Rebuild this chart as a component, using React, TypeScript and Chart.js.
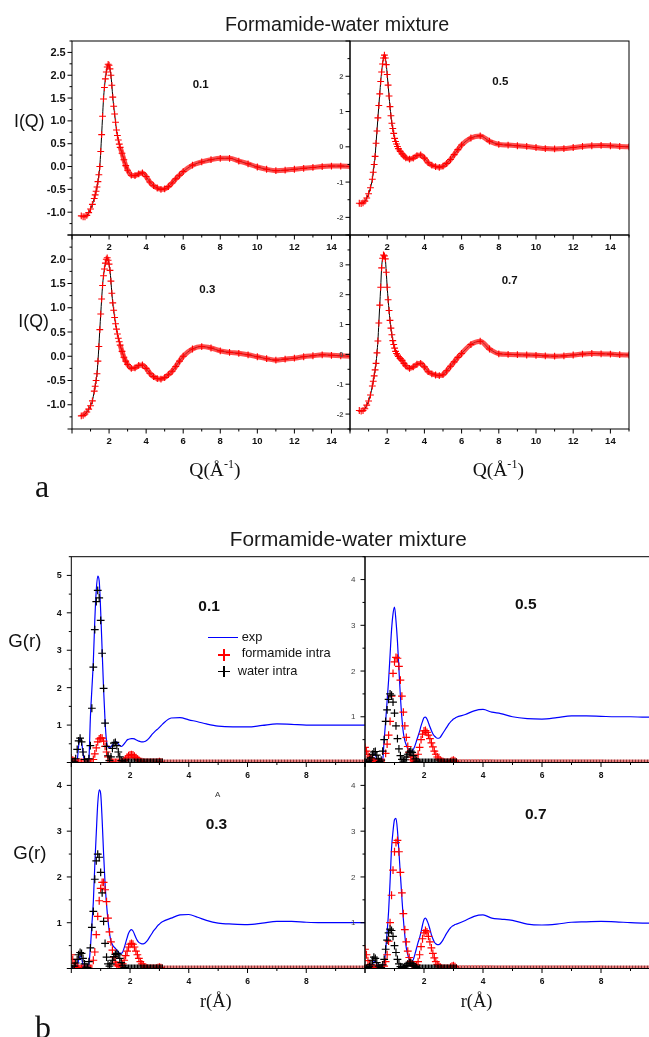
import React, { useEffect, useRef } from 'react';
import { Chart, registerables } from 'chart.js';

Chart.register(...registerables);

// ---------------- DATA: (a) I(Q) ----------------
const qGrid = [
  0.5, 0.6, 0.7, 0.8, 0.9, 1.0, 1.1, 1.2,
  1.25, 1.3, 1.35, 1.4, 1.45, 1.5, 1.55, 1.6, 1.65, 1.7, 1.75, 1.8, 1.85, 1.9, 1.95, 2.0,
  2.05, 2.1, 2.15, 2.2, 2.25, 2.3, 2.35, 2.4, 2.45, 2.5, 2.55, 2.6,
  2.7, 2.8, 2.9, 3.0,
  3.2, 3.4, 3.6, 3.8, 4.0, 4.2, 4.4, 4.6, 4.8, 5.0, 5.2, 5.4, 5.6, 5.8, 6.0,
  6.5, 7.0, 7.5, 8.0, 8.5, 9.0, 9.5, 10.0, 10.5, 11.0, 11.5, 12.0, 12.5, 13.0, 13.5, 14.0, 14.5, 15.0,
];

const iq01 = [
  -1.08, -1.1, -1.1, -1.07, -1.01, -0.93, -0.83, -0.7,
  -0.62, -0.54, -0.45, -0.33, -0.18, 0.0, 0.33, 0.7, 1.1, 1.48, 1.73, 1.92, 2.07, 2.18, 2.24, 2.22,
  2.14, 2.0, 1.78, 1.52, 1.32, 1.15, 0.97, 0.8, 0.68, 0.58, 0.49, 0.42,
  0.29, 0.15, 0.02, -0.08,
  -0.19, -0.2, -0.16, -0.14, -0.22, -0.34, -0.42, -0.47, -0.5, -0.49, -0.44, -0.36, -0.27, -0.19, -0.11,
  0.03, 0.1, 0.15, 0.18, 0.18, 0.12, 0.06, -0.01, -0.06, -0.09, -0.08, -0.06, -0.04, -0.02, 0.0, 0.01, 0.01, 0.0,
];

const iq05 = [
  -1.6, -1.61, -1.59, -1.54, -1.45, -1.33, -1.16, -0.92,
  -0.72, -0.5, -0.27, 0.1, 0.45, 0.82, 1.17, 1.5, 1.85, 2.12, 2.35, 2.52, 2.6, 2.52, 2.33, 2.05,
  1.75, 1.44, 1.14, 0.88, 0.67, 0.52, 0.38, 0.24, 0.15, 0.08, 0.01, -0.05,
  -0.13, -0.2, -0.26, -0.31,
  -0.35, -0.32, -0.25, -0.23, -0.32, -0.45, -0.52, -0.56, -0.58, -0.55, -0.47, -0.36, -0.22, -0.08, 0.05,
  0.25, 0.31, 0.16, 0.07, 0.05, 0.03, 0.01, -0.02, -0.05, -0.06, -0.05, -0.02, 0.01, 0.03, 0.04, 0.03, 0.01, 0.0,
];

const iq03 = [
  -1.23, -1.22, -1.19, -1.15, -1.09, -1.02, -0.92, -0.72,
  -0.62, -0.5, -0.36, -0.1, 0.2, 0.55, 0.87, 1.18, 1.46, 1.66, 1.8, 1.92, 2.0, 2.03, 1.98, 1.9,
  1.77, 1.55, 1.3, 1.1, 0.95, 0.8, 0.67, 0.56, 0.46, 0.37, 0.3, 0.23,
  0.1, -0.02, -0.1, -0.17,
  -0.25, -0.24, -0.19, -0.18, -0.25, -0.35, -0.42, -0.46, -0.47, -0.44, -0.38, -0.31, -0.21, -0.1, 0.0,
  0.15, 0.2, 0.17, 0.11, 0.08, 0.06, 0.03, -0.01, -0.05, -0.08, -0.06, -0.04, -0.01, 0.01, 0.03, 0.02, 0.01, 0.0,
];

const iq07 = [
  -1.88, -1.9, -1.88, -1.82, -1.7, -1.56, -1.36, -1.06,
  -0.9, -0.72, -0.52, -0.3, 0.05, 0.45, 1.05, 1.65, 2.25, 2.9, 3.22, 3.33, 3.3, 3.2, 2.75, 2.25,
  1.83, 1.47, 1.14, 0.88, 0.66, 0.46, 0.33, 0.21, 0.1, 0.03, -0.02, -0.07,
  -0.14, -0.2, -0.3, -0.38,
  -0.47, -0.42, -0.33, -0.3, -0.42, -0.58, -0.65, -0.69, -0.71, -0.68, -0.55, -0.4, -0.25, -0.1, 0.03,
  0.33, 0.44, 0.18, 0.02, 0.0, -0.01, -0.02, -0.03, -0.05, -0.06, -0.05, -0.02, 0.01, 0.03, 0.02, 0.01, -0.01, -0.02,
];

const qTickVals = [2, 4, 6, 8, 10, 12, 14];
const iqTicks01 = [-1.0, -0.5, 0.0, 0.5, 1.0, 1.5, 2.0, 2.5];
const iqTicks05 = [-2, -1, 0, 1, 2];
const iqTicks03 = [-1.0, -0.5, 0.0, 0.5, 1.0, 1.5, 2.0];
const iqTicks07 = [-2, -1, 0, 1, 2, 3];

// ---------------- DATA: (b) G(r) ----------------
const rGrid = [
  0, 0.05, 0.1, 0.15, 0.2, 0.25, 0.3, 0.35, 0.4, 0.45,
  0.5, 0.55, 0.6, 0.65, 0.7, 0.75, 0.8, 0.85, 0.9, 0.95,
  1, 1.05, 1.1, 1.15, 1.2, 1.25, 1.3, 1.35, 1.4, 1.45,
  1.5, 1.55, 1.6, 1.65, 1.7, 1.75, 1.8, 1.85, 1.9, 1.95,
  2, 2.05, 2.1, 2.15, 2.2, 2.25, 2.3, 2.35, 2.4, 2.45,
  2.5, 2.55, 2.6, 2.65, 2.7, 2.75, 2.8, 2.85, 2.9, 2.95,
  3, 3.05, 3.1,
];
const rTail = [3.4, 3.7, 4, 4.3, 4.6, 5, 5.5, 6, 6.5, 7, 7.5, 8, 8.5, 9, 9.5, 10];
const rEnd = [10];
const rExp = [...rGrid, ...rTail];
const rPart = [...rGrid, ...rEnd];

const expG01 = [
  0, 0, 0, 0, 0.05, 0.45, 0.66, 0.55, 0.25, 0.03,
  0, 0, 0.1, 1.2, 1.95, 2.7, 3.8, 4.6, 4.98, 4.85,
  4.05, 3.0, 1.95, 1.1, 0.56, 0.42, 0.39, 0.42, 0.47, 0.52,
  0.56, 0.55, 0.5, 0.45, 0.43, 0.45, 0.5, 0.55, 0.6, 0.62,
  0.63, 0.64, 0.64, 0.63, 0.61, 0.59, 0.57, 0.56, 0.55, 0.55,
  0.56, 0.58, 0.61, 0.65, 0.7, 0.75, 0.79, 0.83, 0.87, 0.9,
  0.94, 0.98, 1.02,
  1.19, 1.2, 1.14, 1.09, 1.03, 0.97, 0.95, 0.95, 0.99, 1.03, 1.02, 1.0, 1.0, 1.0, 1.0, 1.0,
];
const formG01 = [
  0.12, 0.06, 0.02, 0, 0, 0, 0, 0, 0, 0,
  0, 0, 0, 0, 0, 0.08, 0.23, 0.39, 0.55, 0.63,
  0.66, 0.65, 0.57, 0.43, 0.28, 0.15, 0.06, 0.02, 0, 0,
  0, 0, 0, 0, 0, 0.02, 0.05, 0.09, 0.14, 0.18,
  0.2, 0.21, 0.2, 0.17, 0.13, 0.09, 0.06, 0.03, 0.02, 0.01,
  0, 0, 0, 0, 0, 0, 0, 0, 0, 0.01,
  0.02, 0.01, 0,
  0,
];
const waterG01 = [
  0, 0, 0.02, 0.1, 0.35, 0.58, 0.65, 0.55, 0.28, 0.08,
  0, 0, 0.1, 0.45, 1.45, 2.55, 3.55, 4.3, 4.6, 4.4,
  3.8, 2.92, 1.98, 1.05, 0.43, 0.18, 0.05, 0.15, 0.38, 0.52,
  0.54, 0.45, 0.28, 0.15, 0.05, 0.01, 0, 0, 0, 0,
  0, 0, 0, 0, 0, 0, 0, 0, 0, 0,
  0, 0, 0, 0, 0, 0, 0, 0, 0, 0,
  0, 0, 0,
  0,
];

const expG05 = [
  0.04, 0.02, 0, 0, 0.02, 0.12, 0.19, 0.17, 0.06, 0,
  0, 0, 0.05, 0.5, 0.9, 1.35, 1.8, 2.35, 2.9, 3.25,
  3.4, 3.1, 2.65, 2.04, 1.45, 0.98, 0.65, 0.48, 0.38, 0.3,
  0.27, 0.25, 0.25, 0.3, 0.38, 0.48, 0.58, 0.68, 0.8, 0.9,
  0.98, 0.99, 0.95, 0.87, 0.78, 0.7, 0.63, 0.58, 0.55, 0.53,
  0.53, 0.55, 0.6, 0.65, 0.7, 0.75, 0.8, 0.85, 0.89, 0.92,
  0.95, 0.97, 0.99,
  1.05, 1.13, 1.16, 1.1, 1.07, 1.0, 0.96, 0.95, 0.98, 1.02, 1.02, 1.01, 1.0, 1.0, 0.99, 0.99,
];
const formG05 = [
  0.33, 0.25, 0.17, 0.12, 0.08, 0.05, 0.03, 0.01, 0, 0,
  0, 0, 0, 0, 0.2, 0.4, 0.6, 0.9, 1.45, 1.95,
  2.2, 2.3, 2.28, 2.1, 1.8, 1.45, 1.1, 0.8, 0.55, 0.35,
  0.22, 0.12, 0.06, 0.03, 0.02, 0.05, 0.18, 0.33, 0.5, 0.62,
  0.69, 0.7, 0.66, 0.6, 0.52, 0.43, 0.34, 0.25, 0.18, 0.12,
  0.08, 0.05, 0.03, 0.02, 0, 0, 0, 0, 0.02, 0.04,
  0.05, 0.03, 0.01,
  0,
];
const waterG05 = [
  0, 0, 0.02, 0.05, 0.1, 0.18, 0.23, 0.24, 0.16, 0.08,
  0.02, 0.05, 0.25, 0.5, 0.9, 1.15, 1.38, 1.5, 1.47, 1.32,
  1.08, 0.8, 0.52, 0.3, 0.15, 0.07, 0.03, 0.06, 0.12, 0.18,
  0.23, 0.25, 0.22, 0.15, 0.08, 0.03, 0.01, 0, 0, 0,
  0, 0, 0, 0, 0, 0, 0, 0, 0, 0,
  0, 0, 0, 0, 0, 0, 0, 0, 0, 0,
  0, 0, 0,
  0,
];

const expG03 = [
  0.05, 0.02, 0, 0, 0.05, 0.18, 0.27, 0.22, 0.08, 0,
  0, 0, 0.1, 0.45, 0.95, 1.45, 2.26, 2.95, 3.6, 3.9,
  3.82, 3.25, 2.5, 1.85, 1.4, 1.05, 0.78, 0.6, 0.52, 0.47,
  0.44, 0.4, 0.36, 0.33, 0.33, 0.36, 0.45, 0.56, 0.67, 0.77,
  0.83, 0.85, 0.82, 0.75, 0.67, 0.61, 0.57, 0.55, 0.54, 0.54,
  0.55, 0.58, 0.62, 0.67, 0.72, 0.77, 0.82, 0.86, 0.9, 0.94,
  0.97, 1.0, 1.02,
  1.1, 1.17, 1.18, 1.12, 1.05, 0.99, 0.97, 0.96, 0.99, 1.03, 1.03, 1.01, 1.0, 1.0, 1.0, 1.0,
];
const formG03 = [
  0.3, 0.2, 0.11, 0.05, 0.02, 0, 0, 0, 0.01, 0,
  0, 0, 0, 0, 0, 0.18, 0.36, 0.74, 1.14, 1.48,
  1.75, 1.88, 1.88, 1.72, 1.46, 1.1, 0.8, 0.58, 0.4, 0.25,
  0.14, 0.08, 0.05, 0.04, 0.05, 0.1, 0.18, 0.28, 0.38, 0.47,
  0.53, 0.55, 0.53, 0.47, 0.38, 0.3, 0.22, 0.15, 0.1, 0.06,
  0.03, 0.02, 0.01, 0, 0, 0, 0, 0, 0.01, 0.02,
  0.03, 0.02, 0,
  0,
];
const waterG03 = [
  0, 0, 0.05, 0.12, 0.2, 0.3, 0.35, 0.33, 0.22, 0.1,
  0.03, 0.02, 0.15, 0.45, 0.9, 1.25, 1.95, 2.35, 2.5, 2.43,
  2.1, 1.65, 1.03, 0.55, 0.25, 0.1, 0.05, 0.1, 0.18, 0.26,
  0.31, 0.33, 0.3, 0.22, 0.13, 0.06, 0.02, 0, 0, 0,
  0, 0, 0, 0, 0, 0, 0, 0, 0, 0,
  0, 0, 0, 0, 0, 0, 0, 0, 0, 0,
  0, 0, 0,
  0,
];

const expG07 = [
  0.02, 0, 0, 0, 0.02, 0.08, 0.15, 0.16, 0.1, 0.02,
  0, 0, 0, 0.08, 0.4, 0.8, 1.25, 1.9, 2.62, 3.0,
  3.25, 3.28, 3.02, 2.55, 2.05, 1.55, 1.08, 0.72, 0.45, 0.3,
  0.2, 0.15, 0.15, 0.22, 0.33, 0.45, 0.57, 0.67, 0.8, 0.95,
  1.07, 1.1, 1.05, 0.97, 0.86, 0.74, 0.65, 0.58, 0.54, 0.52,
  0.52, 0.54, 0.58, 0.63, 0.69, 0.75, 0.8, 0.85, 0.89, 0.92,
  0.94, 0.96, 0.97,
  1.05, 1.14, 1.17, 1.1, 1.08, 1.05, 0.97, 0.95, 0.97, 1.01, 1.02, 1.03, 1.02, 1.0, 0.99, 0.99,
];
const formG07 = [
  0.42, 0.3, 0.17, 0.08, 0.03, 0.01, 0.01, 0.01, 0.01, 0.01,
  0, 0, 0, 0.05, 0.15, 0.3, 0.6, 1.0, 1.6, 2.15,
  2.55, 2.75, 2.8, 2.55, 2.1, 1.65, 1.2, 0.85, 0.58, 0.38,
  0.24, 0.15, 0.09, 0.05, 0.04, 0.08, 0.15, 0.3, 0.48, 0.65,
  0.78, 0.83, 0.8, 0.7, 0.58, 0.45, 0.33, 0.23, 0.15, 0.09,
  0.05, 0.03, 0.01, 0, 0, 0, 0, 0, 0.03, 0.05,
  0.06, 0.04, 0.01,
  0,
];
const waterG07 = [
  0, 0, 0.02, 0.04, 0.08, 0.18, 0.25, 0.22, 0.13, 0.05,
  0.01, 0.02, 0.08, 0.2, 0.42, 0.62, 0.78, 0.86, 0.83, 0.7,
  0.5, 0.35, 0.2, 0.1, 0.04, 0.02, 0.02, 0.04, 0.07, 0.1,
  0.12, 0.12, 0.1, 0.07, 0.04, 0.02, 0, 0, 0, 0,
  0, 0, 0, 0, 0, 0, 0, 0, 0, 0,
  0, 0, 0, 0, 0, 0, 0, 0, 0, 0,
  0, 0, 0,
  0,
];

const rTickVals = [2, 4, 6, 8];
const gTicks01 = [1, 2, 3, 4, 5];
const gTicks = [1, 2, 3, 4];

// ---------------- rendering ----------------
const CW = 680;
const CH = 1037;
const SANS = '"Liberation Sans", Arial, Helvetica, sans-serif';
const SERIF = '"Liberation Serif", "Times New Roman", Times, serif';

const framePlugin = {
  id: 'frame',
  afterDraw(chart: any, _args: any, o: any) {
    const { ctx, chartArea: a, scales } = chart;
    const xs = scales.x;
    const ys = scales.y;
    ctx.save();
    ctx.strokeStyle = '#000';
    ctx.lineWidth = 1;
    ctx.strokeRect(a.left, a.top, a.right - a.left, a.bottom - a.top);
    const isMul = (v: number, s: number) => Math.abs(v / s - Math.round(v / s)) < 1e-6;
    const kx0 = Math.ceil(o.xMin / o.xMinor - 1e-6);
    const kx1 = Math.floor(o.xMax / o.xMinor + 1e-6);
    for (let k = kx0; k <= kx1; k++) {
      const v = k * o.xMinor;
      const px = xs.getPixelForValue(v);
      const len = isMul(v, o.xMajor) ? 4.5 : 2.5;
      ctx.beginPath();
      ctx.moveTo(px, a.bottom);
      ctx.lineTo(px, a.bottom + len);
      ctx.stroke();
    }
    const ky0 = Math.ceil(o.yMin / o.yMinor - 1e-6);
    const ky1 = Math.floor(o.yMax / o.yMinor + 1e-6);
    for (let k = ky0; k <= ky1; k++) {
      const v = k * o.yMinor;
      const py = ys.getPixelForValue(v);
      const len = isMul(v, o.yMajor) ? 4.5 : 2.5;
      ctx.beginPath();
      ctx.moveTo(a.left, py);
      ctx.lineTo(a.left - len, py);
      ctx.stroke();
    }
    ctx.font = o.xFont;
    ctx.fillStyle = '#111';
    ctx.textAlign = 'center';
    ctx.textBaseline = 'middle';
    o.xLabels.forEach((v: number) => {
      ctx.fillText(String(v), xs.getPixelForValue(v), a.bottom + o.xOff);
    });
    ctx.font = o.yFont;
    ctx.fillStyle = o.yColor;
    ctx.textAlign = 'right';
    o.yLabels.forEach((v: number) => {
      ctx.fillText(v.toFixed(o.yDec), a.left - o.yGap, ys.getPixelForValue(v) + 0.5);
    });
    ctx.restore();
  },
};

function iqSets(vals: number[]) {
  const pts = qGrid.map((q, i) => ({ x: q, y: vals[i] }));
  return [
    {
      data: pts,
      showLine: true,
      borderWidth: 5,
      borderColor: 'transparent',
      segment: {
        borderColor: (c: any) => (qGrid[c.p0DataIndex] >= 2.6 ? 'rgba(255,30,30,0.78)' : 'transparent'),
      },
      cubicInterpolationMode: 'monotone',
      pointStyle: 'cross',
      pointRadius: 3.4,
      pointBorderWidth: 1.1,
      pointBorderColor: '#ff0000',
      pointBackgroundColor: '#ff0000',
    },
    {
      data: pts,
      borderColor: '#000',
      borderWidth: 1,
      pointRadius: 0,
      cubicInterpolationMode: 'monotone',
    },
  ];
}

function partSet(vals: number[], color: string, band: string, offset: number) {
  return {
    data: rPart.map((r, i) => ({ x: r, y: vals[i] })),
    showLine: true,
    borderWidth: 6,
    borderColor: 'transparent',
    borderDash: [1.2, 1.8],
    borderDashOffset: offset,
    segment: {
      borderColor: (c: any) => (c.p0DataIndex >= rGrid.length - 1 ? band : 'transparent'),
    },
    pointStyle: 'cross',
    pointRadius: 3.9,
    pointBorderWidth: 1.2,
    pointBorderColor: color,
    pointBackgroundColor: color,
  };
}

function grSets(exp: number[], form: number[], water: number[]) {
  return [
    partSet(water, '#000000', 'rgba(110,20,20,0.85)', 1.5),
    partSet(form, '#ff0000', 'rgba(230,40,40,0.95)', 0),
    {
      data: rExp.map((r, i) => ({ x: r, y: exp[i] })),
      borderColor: '#0000ff',
      borderWidth: 1.2,
      pointRadius: 0,
      cubicInterpolationMode: 'monotone',
    },
  ];
}

const aLeft = { yFont: `bold 11px ${SANS}`, yColor: '#111', yGap: 6.3 };
const aRight = { yFont: `bold 7.5px ${SANS}`, yColor: '#555', yGap: 6.5 };
const aX = { xMin: 0, xMax: 15, xMajor: 2, xMinor: 1, xLabels: qTickVals, xFont: `bold 9.5px ${SANS}`, xOff: 12 };
const bLeft = { yFont: `bold 9px ${SANS}`, yColor: '#111', yGap: 9.5 };
const bRight = { yFont: `8px ${SANS}`, yColor: '#444', yGap: 9.5 };
const bX = { xMin: 0, xMax: 10, xMajor: 2, xMinor: 1, xLabels: rTickVals, xFont: `bold 8.5px ${SANS}`, xOff: 12.7 };

const PANELS: any[] = [
  { id: 'a01', l: 72, t: 41, r: 350, b: 235, ...aX, ...aLeft, yMin: -1.5, yMax: 2.75, yMajor: 0.5, yMinor: 0.25, yLabels: iqTicks01, yDec: 1, sets: () => iqSets(iq01) },
  { id: 'a05', l: 350, t: 41, r: 629, b: 235, ...aX, ...aRight, yMin: -2.5, yMax: 3, yMajor: 1, yMinor: 0.5, yLabels: iqTicks05, yDec: 0, sets: () => iqSets(iq05) },
  { id: 'a03', l: 72, t: 235, r: 350, b: 429, ...aX, ...aLeft, yMin: -1.5, yMax: 2.5, yMajor: 0.5, yMinor: 0.25, yLabels: iqTicks03, yDec: 1, sets: () => iqSets(iq03) },
  { id: 'a07', l: 350, t: 235, r: 629, b: 429, ...aX, ...aRight, yMin: -2.5, yMax: 4, yMajor: 1, yMinor: 0.5, yLabels: iqTicks07, yDec: 0, sets: () => iqSets(iq07) },
  { id: 'b01', l: 71.3, t: 556.7, r: 365, b: 762.5, ...bX, ...bLeft, yMin: 0, yMax: 5.5, yMajor: 1, yMinor: 0.5, yLabels: gTicks01, yDec: 0, sets: () => grSets(expG01, formG01, waterG01) },
  { id: 'b05', l: 365, t: 556.7, r: 660, b: 762.5, ...bX, ...bRight, yMin: 0, yMax: 4.5, yMajor: 1, yMinor: 0.5, yLabels: gTicks, yDec: 0, sets: () => grSets(expG05, formG05, waterG05) },
  { id: 'b03', l: 71.3, t: 762.5, r: 365, b: 968.5, ...bX, ...bLeft, yMin: 0, yMax: 4.5, yMajor: 1, yMinor: 0.5, yLabels: gTicks, yDec: 0, sets: () => grSets(expG03, formG03, waterG03) },
  { id: 'b07', l: 365, t: 762.5, r: 660, b: 968.5, ...bX, ...bRight, yMin: 0, yMax: 4.5, yMajor: 1, yMinor: 0.5, yLabels: gTicks, yDec: 0, sets: () => grSets(expG07, formG07, waterG07) },
];

function buildConfig(p: any): any {
  return {
    type: 'line',
    data: { datasets: p.sets() },
    options: {
      animation: false,
      responsive: false,
      events: [],
      layout: { padding: { left: p.l, top: p.t, right: CW - p.r, bottom: CH - p.b } },
      scales: {
        x: { type: 'linear', min: p.xMin, max: p.xMax, display: false },
        y: { type: 'linear', min: p.yMin, max: p.yMax, display: false },
      },
      plugins: {
        legend: { display: false },
        tooltip: { enabled: false },
        frame: p,
      },
    },
    plugins: [framePlugin],
  };
}

function Txt(props: { x: number; y: number; size: number; bold?: boolean; serif?: boolean; center?: boolean; color?: string; children: any }) {
  const { x, y, size, bold, serif, center, color, children } = props;
  const asc = serif ? 0.84 : 0.8465;
  return (
    <div
      style={{
        position: 'absolute',
        left: x,
        top: y - asc * size,
        fontSize: size,
        lineHeight: `${size}px`,
        fontFamily: serif ? SERIF : SANS,
        fontWeight: bold ? 700 : 400,
        color: color || '#111',
        whiteSpace: 'nowrap',
        transform: center ? 'translateX(-50%)' : undefined,
      }}
    >
      {children}
    </div>
  );
}

function Cross({ cx, cy, color }: { cx: number; cy: number; color: string }) {
  const s = 11.5;
  return (
    <div style={{ position: 'absolute', left: cx - s / 2, top: cy - s / 2, width: s, height: s }}>
      <div style={{ position: 'absolute', left: 0, top: s / 2 - 0.6, width: s, height: 1.2, background: color }} />
      <div style={{ position: 'absolute', left: s / 2 - 0.6, top: 0, width: 1.2, height: s, background: color }} />
    </div>
  );
}

const sup = { fontSize: '0.62em', position: 'relative' as const, top: '-0.6em', lineHeight: 0 };

export default function App() {
  const refs = useRef<(HTMLCanvasElement | null)[]>([]);
  useEffect(() => {
    const charts = PANELS.map((p, i) => new Chart(refs.current[i] as HTMLCanvasElement, buildConfig(p)));
    return () => charts.forEach((c) => c.destroy());
  }, []);

  return (
    <div style={{ position: 'absolute', left: 0, top: 0, width: 649, height: 1037, overflow: 'hidden', background: '#fff' }}>
      {PANELS.map((p, i) => (
        <canvas
          key={p.id}
          ref={(el) => {
            refs.current[i] = el;
          }}
          width={CW}
          height={CH}
          style={{ position: 'absolute', left: 0, top: 0, width: CW, height: CH }}
        />
      ))}

      {/* (a) */}
      <Txt x={337.2} y={31.7} size={19.7} center color="#1a1a1a">Formamide-water mixture</Txt>
      <Txt x={14} y={128.3} size={17.8}>I(Q)</Txt>
      <Txt x={18.3} y={328.3} size={17.8}>I(Q)</Txt>
      <Txt x={192.7} y={89} size={11.5} bold>0.1</Txt>
      <Txt x={492.3} y={86} size={11.5} bold>0.5</Txt>
      <Txt x={199.3} y={294} size={11.5} bold>0.3</Txt>
      <Txt x={501.7} y={285} size={11.5} bold>0.7</Txt>
      <Txt x={189.3} y={476} size={19.5} serif>
        Q(Å<span style={sup}>-1</span>)
      </Txt>
      <Txt x={472.7} y={476} size={19.5} serif>
        Q(Å<span style={sup}>-1</span>)
      </Txt>
      <Txt x={35} y={497} size={32} serif>a</Txt>

      {/* (b) */}
      <Txt x={348.3} y={546.7} size={20.8} center color="#1a1a1a">Formamide-water mixture</Txt>
      <Txt x={8.3} y={648.3} size={18.7}>G(r)</Txt>
      <Txt x={13.3} y={860} size={18.7}>G(r)</Txt>
      <Txt x={198.3} y={611} size={15.5} bold>0.1</Txt>
      <Txt x={515} y={609} size={15.5} bold>0.5</Txt>
      <Txt x={205.7} y={829.3} size={15.5} bold>0.3</Txt>
      <Txt x={525} y={819.3} size={15.5} bold>0.7</Txt>
      <Txt x={215} y={797.3} size={8} color="#333">A</Txt>
      <Txt x={200} y={1007} size={18.4} serif>r(Å)</Txt>
      <Txt x={460.7} y={1007} size={18.4} serif>r(Å)</Txt>
      <Txt x={35} y={1038} size={32} serif>b</Txt>

      {/* legend of (b) */}
      <div style={{ position: 'absolute', left: 208, top: 637, width: 30, height: 1.4, background: '#0000ff' }} />
      <Txt x={241.7} y={641.7} size={12.8}>exp</Txt>
      <Cross cx={224} cy={655} color="#ff0000" />
      <Txt x={241.7} y={658.3} size={12.8}>formamide intra</Txt>
      <Cross cx={224} cy={671.7} color="#000000" />
      <Txt x={237.7} y={675.7} size={12.8}>water intra</Txt>
    </div>
  );
}
